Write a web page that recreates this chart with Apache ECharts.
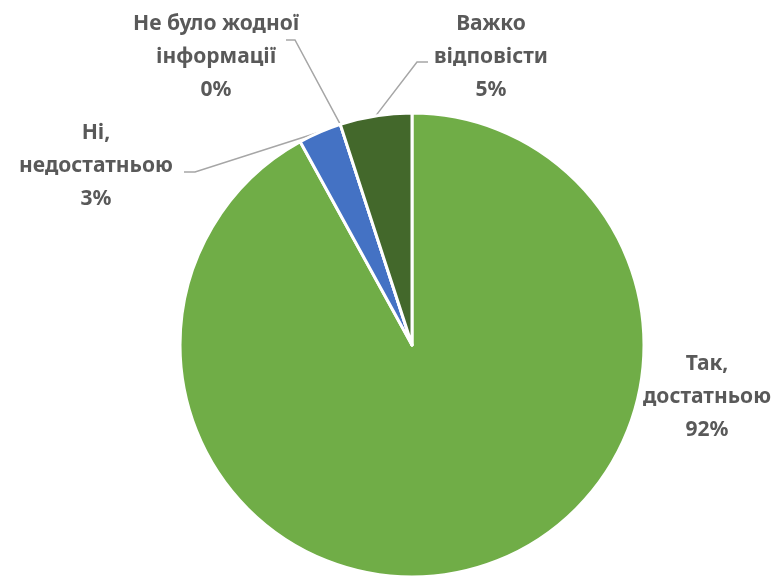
<!DOCTYPE html>
<html>
<head>
<meta charset="utf-8">
<script src="https://cdn.jsdelivr.net/npm/echarts@6/dist/echarts.min.js"></script>
<style>html,body{margin:0;padding:0;background:#fff;}#c{width:778px;height:577px;}</style>
</head>
<body>
<div id="c"></div>
<script>
var categories = ['Так,\nдостатньою', 'Ні,\nнедостатньою', 'Не було жодної\nінформації', 'Важко\nвідповісти'];
var values = [92, 3, 0, 5];
var colors = ['#70AD47', '#4472C4', '#A5A5A5', '#43682B'];

// label anchor placement (layout only)
var labelPos = [
  {x: 707, y: 397, line: null},
  {x: 96, y: 166, line: [[99, 6], [88, 6]]},
  {x: 216, y: 57, line: [[79, -17], [70, -17]]},
  {x: 491, y: 57, line: [[-74, 5], [-63, 5]]}
];

var chart = echarts.init(document.getElementById('c'));
chart.setOption({
  animation: false,
  series: [{
    type: 'pie',
    center: [412, 345],
    radius: 232,
    startAngle: 90,
    clockwise: true,
    data: categories.map(function (c, i) {
      return {name: c, value: values[i], itemStyle: {color: colors[i]},
        labelLine: {show: i !== 0}};
    }),
    itemStyle: {borderColor: '#ffffff', borderWidth: 3},
    label: {
      show: true,
      formatter: function (p) { return p.name + '\n' + Math.round(p.percent) + '%'; },
      fontFamily: 'Noto Sans',
      fontWeight: 'bold',
      fontSize: 21,
      lineHeight: 33,
      color: '#595959',
      align: 'center',
      width: 220,
      overflow: 'none'
    },
    labelLine: {show: true, lineStyle: {color: '#A6A6A6', width: 1.5}},
    labelLayout: function (params) {
      var lp = labelPos[params.dataIndex];
      var res = {x: lp.x, y: lp.y, align: 'center', verticalAlign: 'middle'};
      if (lp.line && params.labelLinePoints) {
        var s = params.labelLinePoints[0];
        res.labelLinePoints = [
          [s[0], s[1]],
          [lp.x + lp.line[0][0], lp.y + lp.line[0][1]],
          [lp.x + lp.line[1][0], lp.y + lp.line[1][1]]
        ];
      }
      return res;
    }
  }]
});
</script>
</body>
</html>
